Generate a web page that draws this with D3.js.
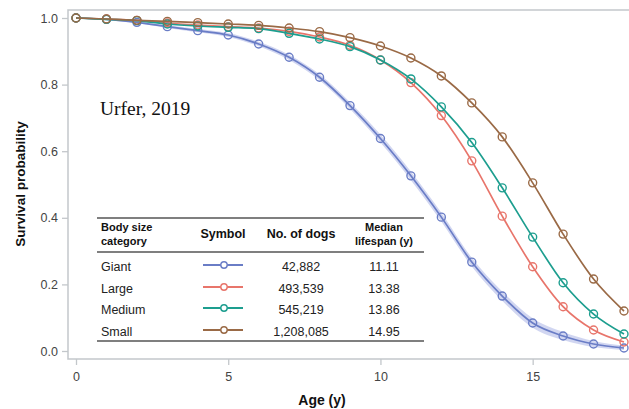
<!DOCTYPE html>
<html>
<head>
<meta charset="utf-8">
<script src="https://cdn.jsdelivr.net/npm/d3@7"></script>
<style>
  body { margin: 0; background: #fff; }
  svg { display: block; font-family: "Liberation Sans", Arial, sans-serif; }
</style>
</head>
<body>
<svg id="chart" width="629" height="409"></svg>
<script>
// data (survival probability by age, 0..18 y)
const ages = d3.range(0, 19);
const giant  = [1.0, 0.996, 0.987, 0.974, 0.962, 0.949, 0.922, 0.882, 0.822, 0.737, 0.638, 0.526, 0.402, 0.267, 0.165, 0.084, 0.045, 0.021, 0.009];
const large  = [1.0, 0.997, 0.993, 0.985, 0.979, 0.974, 0.970, 0.960, 0.943, 0.918, 0.874, 0.806, 0.707, 0.571, 0.405, 0.253, 0.133, 0.063, 0.027];
const medium = [1.0, 0.996, 0.992, 0.982, 0.976, 0.972, 0.968, 0.954, 0.937, 0.914, 0.874, 0.817, 0.733, 0.626, 0.490, 0.342, 0.205, 0.111, 0.051];
const small  = [1.0, 0.997, 0.993, 0.990, 0.986, 0.982, 0.978, 0.970, 0.959, 0.941, 0.916, 0.880, 0.826, 0.745, 0.643, 0.505, 0.351, 0.216, 0.120];
// confidence band for the giant curve
const giantLo = [1.0, 0.994, 0.984, 0.970, 0.957, 0.943, 0.915, 0.874, 0.813, 0.727, 0.626, 0.513, 0.389, 0.254, 0.151, 0.070, 0.033, 0.012, 0.003];
const giantHi = [1.0, 0.998, 0.990, 0.978, 0.967, 0.955, 0.929, 0.890, 0.831, 0.747, 0.650, 0.539, 0.415, 0.280, 0.179, 0.098, 0.057, 0.030, 0.016];

const categories = ['Giant', 'Large', 'Medium', 'Small'];
const dogCounts  = ['42,882', '493,539', '545,219', '1,208,085'];
const medians    = ['11.11', '13.38', '13.86', '14.95'];
const colors     = ['#6a7dc6', '#e8756b', '#1d9e8f', '#9a6a46'];
const seriesVals = [giant, large, medium, small];

const xTicks = [0, 5, 10, 15];
const yTicks = [0, 0.2, 0.4, 0.6, 0.8, 1.0];

const svg = d3.select('#chart');

const x = d3.scaleLinear().domain([0, 18]).range([76, 624]);
const y = d3.scaleLinear().domain([0, 1]).range([351, 18]);

const frameL = 68, frameT = 10, frameB = 359, frameR = 629;

// frame (left, top, bottom)
const frameColor = '#c3c7cb';
svg.append('path')
  .attr('d', `M${frameR},${frameT}H${frameL}V${frameB}H${frameR}`)
  .attr('fill', 'none')
  .attr('stroke', frameColor)
  .attr('stroke-width', 1.5);

// axes
const yAxis = svg.append('g')
  .attr('transform', `translate(${frameL},0)`)
  .call(d3.axisLeft(y).tickValues(yTicks).tickFormat(d3.format('.1f')).tickSize(6).tickPadding(4));
const xAxis = svg.append('g')
  .attr('transform', `translate(0,${frameB})`)
  .call(d3.axisBottom(x).tickValues(xTicks).tickSize(6).tickPadding(7));

[xAxis, yAxis].forEach(ax => {
  ax.select('.domain').remove();
  ax.selectAll('line').attr('stroke', frameColor).attr('stroke-width', 1.3);
  ax.selectAll('text')
    .attr('fill', '#444')
    .style('font-size', '12.5px')
    .style('font-family', '"Liberation Sans", Arial, sans-serif');
});

// axis titles
svg.append('text')
  .attr('x', 322).attr('y', 405)
  .attr('text-anchor', 'middle')
  .style('font-size', '14px').style('font-weight', 'bold')
  .attr('fill', '#111')
  .text('Age (y)');

svg.append('text')
  .attr('transform', 'translate(25,184) rotate(-90)')
  .attr('text-anchor', 'middle')
  .style('font-size', '13.5px').style('font-weight', 'bold')
  .attr('fill', '#111')
  .text('Survival probability');

// confidence band for giant
const band = d3.area()
  .x((d, i) => x(ages[i]))
  .y0((d, i) => y(giantLo[i]))
  .y1((d, i) => y(giantHi[i]))
  .curve(d3.curveMonotoneX);
svg.append('path')
  .datum(giantLo)
  .attr('d', band)
  .attr('fill', '#c9cfee')
  .attr('opacity', 0.85);

// curves
const line = d3.line()
  .x((d, i) => x(ages[i]))
  .y(d => y(d))
  .curve(d3.curveMonotoneX);

seriesVals.forEach((vals, k) => {
  const g = svg.append('g');
  g.append('path')
    .datum(vals)
    .attr('d', line)
    .attr('fill', 'none')
    .attr('stroke', colors[k])
    .attr('stroke-width', 1.7);
  g.selectAll('circle')
    .data(vals)
    .join('circle')
    .attr('cx', (d, i) => x(ages[i]))
    .attr('cy', d => y(d))
    .attr('r', 4)
    .attr('fill', 'none')
    .attr('stroke', colors[k])
    .attr('stroke-width', 1.4);
});

// source label
svg.append('text')
  .attr('x', 100).attr('y', 115)
  .style('font-family', '"Liberation Serif", "Times New Roman", serif')
  .style('font-size', '19.5px')
  .attr('fill', '#111')
  .text('Urfer, 2019');

// inset table
const tbl = svg.append('g').style('font-size', '12.5px').attr('fill', '#222');
const ruleX0 = 97, ruleX1 = 424;
[218, 252, 341].forEach(ry => {
  tbl.append('line')
    .attr('x1', ruleX0).attr('x2', ruleX1)
    .attr('y1', ry).attr('y2', ry)
    .attr('stroke', '#555').attr('stroke-width', 1.4);
});

const colCat = 101, colSym = 223, colN = 301, colMed = 384;
const hdr = tbl.append('g').style('font-weight', 'bold').attr('fill', '#111');
// two-line headers sit tight, as in the reference
hdr.append('text').attr('x', colCat).attr('y', 231).style('font-size', '11px').text('Body size');
hdr.append('text').attr('x', colCat).attr('y', 244.5).style('font-size', '11px').text('category');
hdr.append('text').attr('x', colSym).attr('y', 238).attr('text-anchor', 'middle').text('Symbol');
hdr.append('text').attr('x', colN).attr('y', 238).attr('text-anchor', 'middle').text('No. of dogs');
hdr.append('text').attr('x', colMed).attr('y', 231).attr('text-anchor', 'middle').style('font-size', '11px').text('Median');
hdr.append('text').attr('x', colMed).attr('y', 244.5).attr('text-anchor', 'middle').style('font-size', '11px').text('lifespan (y)');

const rowY = [266, 288, 309, 331];
categories.forEach((c, i) => {
  const ty = rowY[i] + 4.5;
  tbl.append('text').attr('x', colCat).attr('y', ty).text(c);
  tbl.append('text').attr('x', colN).attr('y', ty).attr('text-anchor', 'middle').text(dogCounts[i]);
  tbl.append('text').attr('x', colMed).attr('y', ty).attr('text-anchor', 'middle').text(medians[i]);
  const sy = rowY[i] - 1;
  tbl.append('line')
    .attr('x1', colSym - 20).attr('x2', colSym + 20)
    .attr('y1', sy).attr('y2', sy)
    .attr('stroke', colors[i]).attr('stroke-width', 1.8);
  tbl.append('circle')
    .attr('cx', colSym + 1).attr('cy', sy).attr('r', 3.2)
    .attr('fill', '#fff')
    .attr('stroke', colors[i]).attr('stroke-width', 1.4);
});
</script>
</body>
</html>
